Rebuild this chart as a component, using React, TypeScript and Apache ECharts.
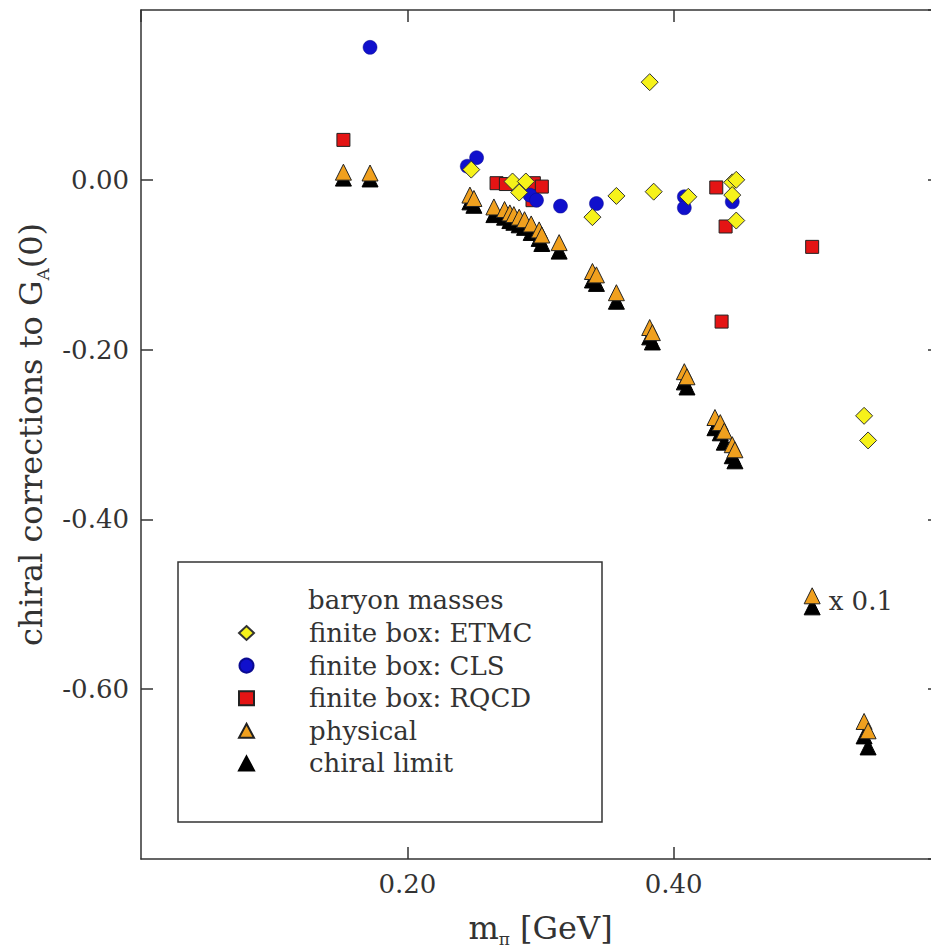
import React, { useEffect, useRef } from 'react';
import * as echarts from 'echarts';

const FONT = '"DejaVu Serif", serif';
const INK = '#333';

// finite box: ETMC (yellow diamonds)
const etmcMass = [0.248, 0.279, 0.289, 0.284, 0.382, 0.357, 0.385, 0.339, 0.411, 0.444, 0.447, 0.444, 0.447, 0.543, 0.546];
const etmcCorr = [0.012, -0.002, -0.002, -0.015, 0.115, -0.019, -0.014, -0.044, -0.020, -0.003, 0.0, -0.018, -0.048, -0.278, -0.307];

// finite box: CLS (blue circles)
const clsMass = [0.172, 0.252, 0.245, 0.292, 0.297, 0.315, 0.342, 0.408, 0.408, 0.444];
const clsCorr = [0.156, 0.026, 0.016, -0.018, -0.024, -0.031, -0.028, -0.020, -0.033, -0.026];

// finite box: RQCD (red squares)
const rqcdMass = [0.152, 0.267, 0.274, 0.295, 0.301, 0.294, 0.432, 0.439, 0.504, 0.436];
const rqcdCorr = [0.047, -0.004, -0.005, -0.004, -0.008, -0.024, -0.009, -0.055, -0.079, -0.167];

// physical / chiral limit (triangles); the last two are the "x 0.1" points
const triMass = [
  0.152, 0.172, 0.247, 0.250, 0.265, 0.273, 0.277, 0.280, 0.284, 0.288, 0.293, 0.299, 0.301, 0.314,
  0.339, 0.342, 0.357, 0.382, 0.384, 0.408, 0.410, 0.431, 0.435, 0.438, 0.444, 0.446, 0.543, 0.546,
];
const physicalCorr = [
  0.009, 0.008, -0.018, -0.022, -0.032, -0.035, -0.039, -0.041, -0.044, -0.047, -0.052, -0.059, -0.065, -0.074,
  -0.108, -0.112, -0.133, -0.174, -0.180, -0.226, -0.232, -0.280, -0.286, -0.296, -0.312, -0.318, -0.638, -0.649,
];
const chiralCorr = [
  0.002, 0.001, -0.026, -0.030, -0.041, -0.044, -0.048, -0.050, -0.053, -0.056, -0.062, -0.069, -0.075, -0.084,
  -0.118, -0.122, -0.143, -0.185, -0.191, -0.238, -0.244, -0.292, -0.298, -0.309, -0.325, -0.331, -0.655, -0.668,
];

// scale key ("x 0.1")
const keyMass = 0.504;
const keyPhysical = -0.49;
const keyChiral = -0.503;

const legendNames = ['finite box: ETMC', 'finite box: CLS', 'finite box: RQCD', 'physical', 'chiral limit'];

const zip = (xs: number[], ys: number[]) => xs.map((x, i) => [x, ys[i]]);

const axisLine = { show: true, onZero: false, lineStyle: { color: INK, width: 1.5 } };
const axisTick = { show: true, inside: true, length: 12, lineStyle: { color: INK, width: 1.5 } };
const labelStyle = { fontSize: 26, fontFamily: FONT, color: INK };

const App: React.FC = () => {
  const chartRef = useRef<HTMLDivElement>(null);

  useEffect(() => {
    document.body.style.margin = '0';
    if (!chartRef.current) return;
    const chart = echarts.init(chartRef.current, null, { renderer: 'svg' });

    const option: any = {
      animation: false,
      backgroundColor: '#fff',
      // the right edge of the frame lies just past the picture
      grid: { left: 141, width: 799, top: 10, bottom: 91, outerBoundsMode: 'none', containLabel: false },
      xAxis: [
        {
          type: 'value',
          min: 0,
          max: 0.6,
          interval: 0.2,
          position: 'bottom',
          axisLine,
          axisTick,
          splitLine: { show: false },
          axisLabel: {
            ...labelStyle,
            margin: 12,
            showMinLabel: false,
            showMaxLabel: false,
            formatter: (v: number) => v.toFixed(2),
          },
          name: 'm{s|π} [GeV]',
          nameLocation: 'middle',
          nameGap: 53,
          nameTextStyle: {
            fontSize: 32,
            fontFamily: FONT,
            color: INK,
            rich: { s: { fontSize: 17, fontFamily: FONT, color: INK, verticalAlign: 'bottom', padding: [0, 0, -3, 0] } },
          },
        },
        {
          type: 'value',
          min: 0,
          max: 0.6,
          interval: 0.2,
          position: 'top',
          axisLine,
          axisTick,
          axisLabel: { show: false },
          splitLine: { show: false },
        },
      ],
      yAxis: [
        {
          type: 'value',
          min: -0.8,
          max: 0.2,
          interval: 0.2,
          position: 'left',
          axisLine,
          axisTick,
          splitLine: { show: false },
          axisLabel: {
            ...labelStyle,
            margin: 12,
            showMinLabel: false,
            showMaxLabel: false,
            formatter: (v: number) => v.toFixed(2),
          },
          name: 'chiral corrections to G{s|A}(0)',
          nameLocation: 'middle',
          nameRotate: 90,
          nameGap: 80,
          nameTextStyle: {
            fontSize: 32,
            fontFamily: FONT,
            color: INK,
            rich: { s: { fontSize: 17, fontFamily: FONT, color: INK, verticalAlign: 'bottom', padding: [0, 0, -4, 0] } },
          },
        },
        {
          type: 'value',
          min: -0.8,
          max: 0.2,
          interval: 0.2,
          position: 'right',
          axisLine,
          axisTick,
          axisLabel: { show: false },
          splitLine: { show: false },
        },
      ],
      legend: {
        data: legendNames,
        orient: 'vertical',
        left: 238,
        top: 620,
        padding: 0,
        itemWidth: 15,
        itemHeight: 14,
        itemGap: 6.6,
        selectedMode: false,
        textStyle: { ...labelStyle, padding: [0, 0, 0, 50] },
      },
      graphic: [
        {
          type: 'rect',
          shape: { x: 178, y: 562, width: 424, height: 260 },
          style: { fill: 'none', stroke: INK, lineWidth: 1.5 },
        },
        {
          type: 'text',
          x: 308,
          y: 600,
          style: { text: 'baryon masses', fontSize: 26, fontFamily: FONT, fill: INK, verticalAlign: 'middle' },
        },
      ],
      series: [
        {
          name: 'chiral limit',
          type: 'scatter',
          symbol: 'triangle',
          symbolSize: 16,
          itemStyle: { color: '#000', borderColor: '#000', borderWidth: 1, opacity: 1 },
          data: zip(triMass, chiralCorr),
          markPoint: {
            symbol: 'triangle',
            symbolSize: 16,
            itemStyle: { color: '#000', borderColor: '#000', borderWidth: 1, opacity: 1 },
            label: {
              show: true,
              position: 'right',
              distance: 8,
              offset: [0, -6],
              formatter: 'x 0.1',
              ...labelStyle,
            },
            data: [{ coord: [keyMass, keyChiral] }],
          },
        },
        {
          name: 'physical',
          type: 'scatter',
          symbol: 'triangle',
          symbolSize: 16,
          itemStyle: { color: '#f0a01e', borderColor: '#222', borderWidth: 1, opacity: 1 },
          data: zip(triMass, physicalCorr),
          markPoint: {
            symbol: 'triangle',
            symbolSize: 16,
            itemStyle: { color: '#f0a01e', borderColor: '#222', borderWidth: 1, opacity: 1 },
            label: { show: false },
            data: [{ coord: [keyMass, keyPhysical] }],
          },
        },
        {
          name: 'finite box: RQCD',
          type: 'scatter',
          symbol: 'rect',
          symbolSize: 13,
          itemStyle: { color: '#e41414', borderColor: '#222', borderWidth: 1, opacity: 1 },
          data: zip(rqcdMass, rqcdCorr),
        },
        {
          name: 'finite box: CLS',
          type: 'scatter',
          symbol: 'circle',
          symbolSize: 14,
          itemStyle: { color: '#1010cc', borderColor: '#0a0a90', borderWidth: 0.5, opacity: 1 },
          data: zip(clsMass, clsCorr),
        },
        {
          name: 'finite box: ETMC',
          type: 'scatter',
          symbol: 'diamond',
          symbolSize: 17,
          itemStyle: { color: '#f6f21a', borderColor: '#333', borderWidth: 1, opacity: 1 },
          data: zip(etmcMass, etmcCorr),
        },
      ],
    };

    chart.setOption(option);
    return () => chart.dispose();
  }, []);

  return <div ref={chartRef} style={{ width: 931, height: 950 }} />;
};

export default App;
